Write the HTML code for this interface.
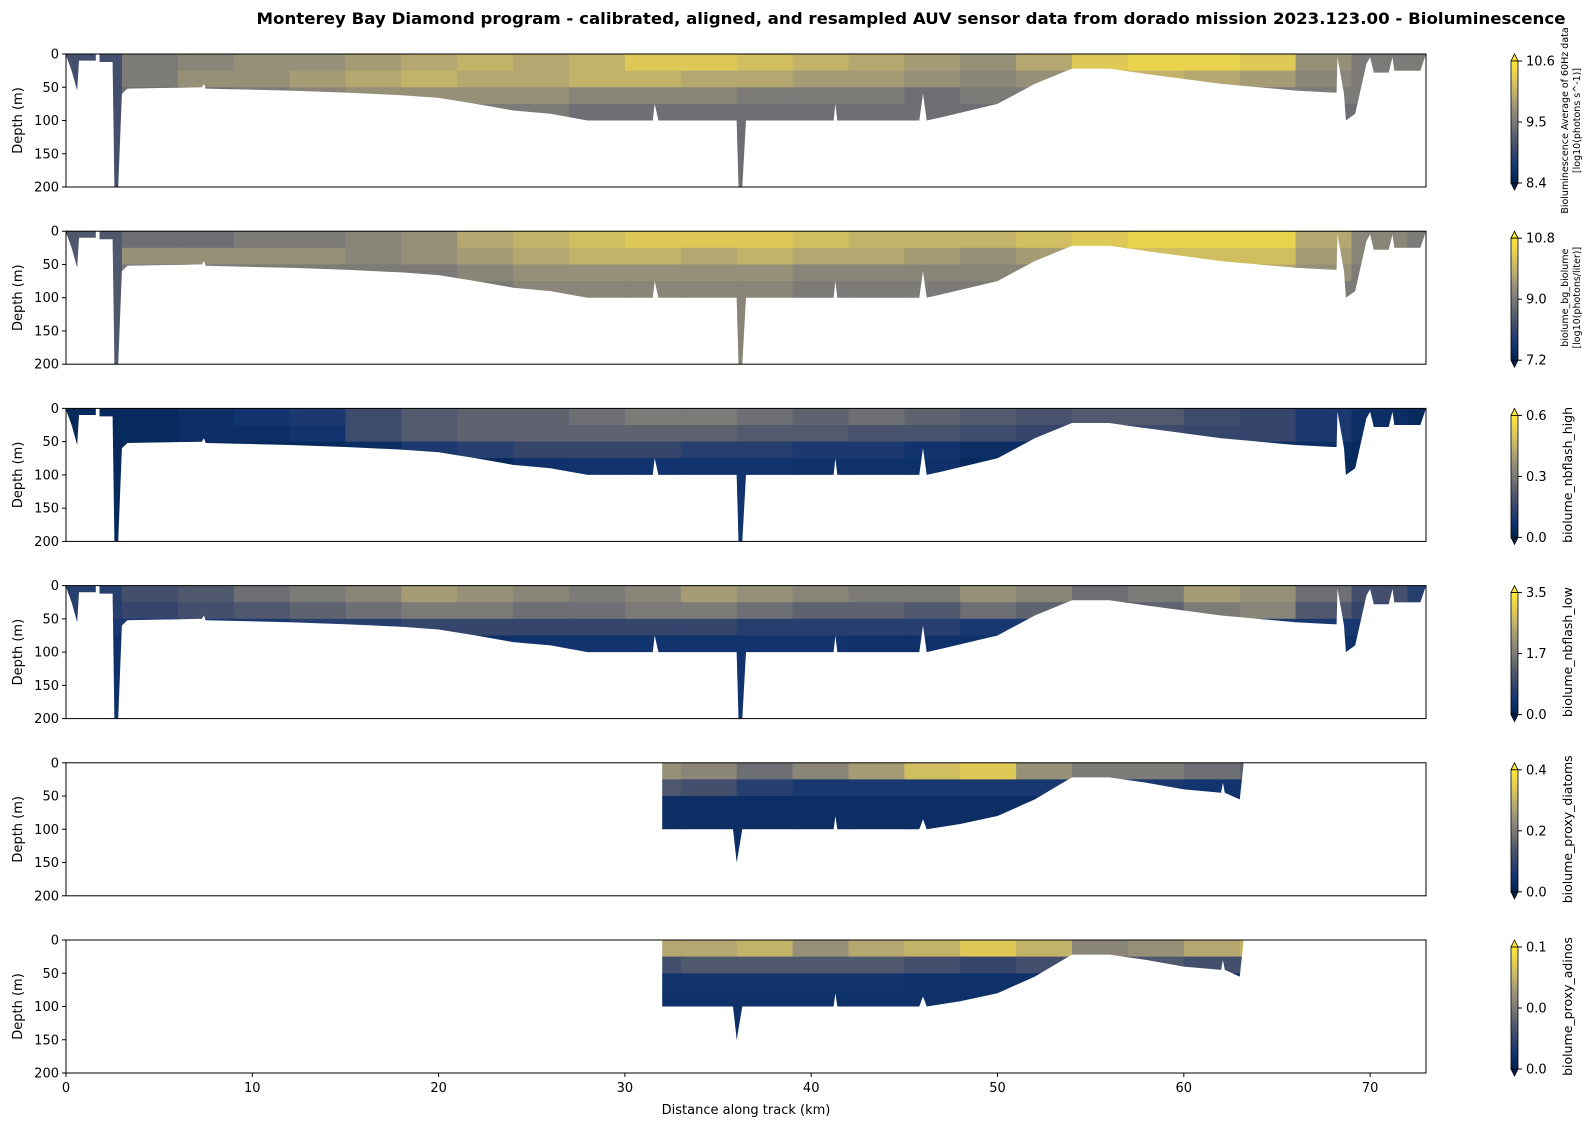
<!DOCTYPE html>
<html><head><meta charset="utf-8"><style>
body{margin:0;background:#fff;}
svg{display:block;font-family:"DejaVu Sans","Liberation Sans",sans-serif;}
</style></head><body>
<svg id="fig" width="1596" height="1128" viewBox="0 0 1596 1128" xmlns="http://www.w3.org/2000/svg">
<rect width="1596" height="1128" fill="#fff"/>
<text x="911" y="24" text-anchor="middle" font-size="16" font-weight="bold" textLength="1309" lengthAdjust="spacingAndGlyphs">Monterey Bay Diamond program - calibrated, aligned, and resampled AUV sensor data from dorado mission 2023.123.00 - Bioluminescence</text>
<text x="746" y="1114" text-anchor="middle" font-size="13">Distance along track (km)</text>
</svg>
<script>
// ---- data ----
const xTicks = [0,10,20,30,40,50,60,70];
const yTicks = [0,50,100,150,200];
const colKm = [0,3,6,9,12,15,18,21,24,27,30,33,36,39,42,45,48,51,54,57,60,63,66,69,72,75];
const rowDepth = [0,25,50,75,200];
const panelNames = ["bioluminescence","biolume-bg","nbflash-high","nbflash-low","proxy-diatoms","proxy-adinos"];
const cbLabels = [["Bioluminescence Average of 60Hz data","[log10(photons s^-1)]"],["biolume_bg_biolume","[log10(photons/liter)]"],["biolume_nbflash_high"],["biolume_nbflash_low"],["biolume_proxy_diatoms"],["biolume_proxy_adinos"]];
const cbTicks = [["10.6","9.5","8.4"],["10.8","9.0","7.2"],["0.6","0.3","0.0"],["3.5","1.7","0.0"],["0.4","0.2","0.0"],["0.1","0.0","0.0"]];
// normalized values (0..1) per panel: rows = depth bins, cols = 3 km bins
const grid1 = [
 [0.3,0.5,0.55,0.6,0.6,0.65,0.7,0.75,0.7,0.75,0.85,0.85,0.8,0.75,0.7,0.65,0.6,0.7,0.85,0.9,0.9,0.85,0.6,0.5,0.5],
 [0.3,0.5,0.6,0.6,0.65,0.7,0.75,0.7,0.7,0.75,0.75,0.7,0.7,0.65,0.65,0.6,0.55,0.6,0.7,0.75,0.7,0.65,0.55,0.5,0.5],
 [0.3,0.45,0.45,0.5,0.55,0.6,0.6,0.6,0.6,0.55,0.55,0.55,0.5,0.5,0.5,0.45,0.5,0.5,0.5,0.55,0.55,0.5,0.5,0.5,0.5],
 [0.3,0.6,0.45,0.45,0.45,0.45,0.5,0.5,0.5,0.45,0.45,0.45,0.45,0.45,0.45,0.45,0.45,0.45,0.45,0.45,0.45,0.45,0.45,0.45,0.45]];
const grid2 = [
 [0.35,0.45,0.45,0.5,0.5,0.55,0.6,0.7,0.75,0.8,0.85,0.85,0.85,0.8,0.75,0.75,0.75,0.8,0.85,0.9,0.9,0.9,0.7,0.55,0.5],
 [0.35,0.6,0.6,0.6,0.6,0.55,0.6,0.65,0.7,0.75,0.75,0.7,0.75,0.7,0.7,0.65,0.6,0.65,0.75,0.8,0.8,0.8,0.65,0.55,0.5],
 [0.35,0.5,0.5,0.5,0.5,0.5,0.5,0.55,0.6,0.6,0.6,0.6,0.6,0.55,0.55,0.55,0.55,0.55,0.6,0.7,0.75,0.7,0.6,0.5,0.5],
 [0.35,0.5,0.5,0.5,0.5,0.5,0.5,0.5,0.55,0.55,0.55,0.55,0.55,0.5,0.5,0.5,0.5,0.5,0.5,0.5,0.5,0.5,0.5,0.5,0.5]];
const grid3 = [
 [0.05,0.05,0.08,0.12,0.16,0.28,0.36,0.4,0.4,0.45,0.5,0.5,0.45,0.4,0.45,0.4,0.36,0.32,0.36,0.36,0.28,0.25,0.16,0.08,0.05],
 [0.05,0.05,0.08,0.08,0.12,0.28,0.36,0.4,0.4,0.4,0.4,0.4,0.36,0.36,0.32,0.32,0.28,0.25,0.25,0.28,0.25,0.25,0.16,0.08,0.05],
 [0.05,0.05,0.05,0.05,0.05,0.08,0.16,0.2,0.25,0.25,0.25,0.2,0.2,0.16,0.16,0.12,0.08,0.08,0.08,0.08,0.08,0.08,0.08,0.05,0.05],
 [0.05,0.6,0.05,0.05,0.05,0.05,0.05,0.05,0.1,0.12,0.12,0.12,0.12,0.1,0.1,0.1,0.05,0.05,0.05,0.05,0.05,0.05,0.05,0.05,0.05]];
const grid4 = [
 [0.2,0.3,0.35,0.45,0.5,0.55,0.65,0.6,0.55,0.5,0.55,0.65,0.6,0.55,0.5,0.5,0.6,0.55,0.45,0.5,0.65,0.6,0.45,0.3,0.2],
 [0.2,0.25,0.3,0.35,0.4,0.45,0.5,0.5,0.45,0.45,0.5,0.5,0.45,0.4,0.4,0.35,0.45,0.4,0.35,0.4,0.5,0.55,0.35,0.25,0.2],
 [0.15,0.15,0.15,0.15,0.2,0.2,0.25,0.25,0.25,0.25,0.25,0.25,0.2,0.2,0.2,0.2,0.15,0.15,0.15,0.15,0.15,0.15,0.15,0.15,0.15],
 [0.1,0.2,0.1,0.1,0.1,0.1,0.1,0.1,0.12,0.12,0.12,0.12,0.12,0.12,0.1,0.1,0.1,0.1,0.1,0.1,0.1,0.1,0.1,0.1,0.1]];
const grid5 = [
 [0,0,0,0,0,0,0,0,0,0,0.6,0.55,0.45,0.55,0.65,0.8,0.85,0.6,0.5,0.5,0.45,0.4,0,0,0],
 [0,0,0,0,0,0,0,0,0,0,0.35,0.3,0.2,0.15,0.15,0.15,0.15,0.15,0.2,0.15,0.12,0.1,0,0,0],
 [0,0,0,0,0,0,0,0,0,0,0.08,0.08,0.08,0.08,0.08,0.08,0.08,0.08,0.08,0.08,0.08,0.08,0,0,0],
 [0,0,0,0,0,0,0,0,0,0,0.08,0.08,0.08,0.08,0.08,0.08,0.08,0.08,0.08,0.08,0.08,0.08,0,0,0]];
const grid6 = [
 [0,0,0,0,0,0,0,0,0,0,0.7,0.7,0.75,0.6,0.7,0.75,0.85,0.75,0.55,0.6,0.7,0.75,0,0,0],
 [0,0,0,0,0,0,0,0,0,0,0.3,0.35,0.35,0.35,0.35,0.3,0.25,0.3,0.35,0.35,0.3,0.3,0,0,0],
 [0,0,0,0,0,0,0,0,0,0,0.12,0.12,0.12,0.12,0.12,0.1,0.1,0.1,0.12,0.12,0.12,0.12,0,0,0],
 [0,0,0,0,0,0,0,0,0,0,0.1,0.1,0.1,0.1,0.1,0.1,0.1,0.1,0.1,0.1,0.1,0.1,0,0,0]];
const grids = [grid1,grid2,grid3,grid4,grid5,grid6];
// data-region outline (km, depth)
const fullKm =    [0,0.3,0.6,0.7,1.6,1.6,1.8,1.8,2.5,2.6,2.8,3.0,3.3,7.3,7.4,7.5,12,15,18,20,22,24,26,28,31.5,31.6,31.8,36,36.1,36.3,36.5,41.2,41.3,41.4,45.8,46,46.2,47,50,52,54,56,58,62,66,68,68.2,68.25,68.6,68.7,69.2,69.8,70,70.2,71,71.2,71.3,72.7,73];
const fullDepth = [2,25,55,10,10,0,0,12,12,200,200,60,52,50,45,52,55,58,62,66,75,85,90,100,100,75,100,100,200,200,100,100,75,100,100,60,100,95,75,45,22,22,30,45,55,58,58,5,60,100,90,15,5,28,28,5,25,25,0];
const partKm =    [32,32,35.8,36,36.3,41.2,41.3,41.4,45.8,46,46.2,48,50,52,54,56,58,60,62,62.1,62.2,63,63.2];
const partDepth = [0,100,100,150,100,100,80,100,100,85,100,92,80,55,22,22,30,40,45,30,45,55,5];
const profKm = [fullKm,fullKm,fullKm,fullKm,partKm,partKm];
const profDepth = [fullDepth,fullDepth,fullDepth,fullDepth,partDepth,partDepth];

// ---- layout ----
const svg = document.getElementById('fig');
const NS = 'http://www.w3.org/2000/svg';
const X0 = 66, X1 = 1426, KM_MAX = 73;
const PH = 133;
function xs(km){ return X0 + (km/KM_MAX)*(X1-X0); }
function ys(d, top){ return top + (d/200)*PH; }
const stops = [[0,[0,34,78]],[0.125,[18,53,112]],[0.25,[53,69,108]],[0.375,[87,93,109]],[0.5,[124,123,120]],[0.625,[157,149,120]],[0.75,[195,179,105]],[0.875,[229,207,82]],[1,[254,232,56]]];
function cmap(v){
  v=Math.max(0,Math.min(1,v));
  for(let i=1;i<stops.length;i++){ if(v<=stops[i][0]){ const a=stops[i-1],b=stops[i]; const t=(v-a[0])/(b[0]-a[0]);
    const c=a[1].map((q,k)=>Math.round(q+(b[1][k]-q)*t)); return `rgb(${c[0]},${c[1]},${c[2]})`; } }
  return 'rgb(254,232,56)';
}
function mk(tag, attrs, parent){ const e=document.createElementNS(NS,tag); for(const k in attrs) e.setAttribute(k,attrs[k]); (parent||svg).appendChild(e); return e; }

const defs = mk('defs',{});
const lg = mk('linearGradient',{id:'cbgrad',x1:'0',y1:'1',x2:'0',y2:'0'},defs);
stops.forEach(s=>{ mk('stop',{offset:s[0], 'stop-color':cmap(s[0])},lg); });

for(let p=0;p<6;p++){
  const top = 54 + p*177.2;
  const g = mk('g',{});
  
  
  const cp = mk('clipPath',{id:'clip'+p},defs);
  const kmArr = profKm[p], dArr = profDepth[p];
  let pts = `${xs(kmArr[0])},${top} `;
  for(let i=0;i<kmArr.length;i++) pts += `${xs(kmArr[i]).toFixed(1)},${ys(dArr[i],top).toFixed(1)} `;
  pts += `${xs(kmArr[kmArr.length-1])},${top}`;
  mk('polygon',{points:pts},cp);
  const cells = mk('g',{'clip-path':`url(#clip${p})`},g);
  const grid = grids[p];
  for(let r=0;r<grid.length;r++){
    for(let c=0;c<grid[r].length;c++){
      const x=xs(colKm[c]), w=xs(Math.min(colKm[c+1],KM_MAX))-x;
      const y=ys(rowDepth[r],top), h=ys(rowDepth[r+1],top)-y;
      const cell = mk('rect',{x:x.toFixed(1),y:y.toFixed(1),width:(w+0.6).toFixed(1),height:(h+0.6).toFixed(1),fill:cmap(grid[r][c])},cells);
      
      
    }
  }
  const fr = mk('rect',{x:X0,y:top,width:X1-X0,height:PH,fill:'none',stroke:'#000','stroke-width':1},g);
  
  
  yTicks.forEach(t=>{
    const y=ys(t,top);
    mk('line',{x1:X0-4,x2:X0,y1:y,y2:y,stroke:'#000'},g);
    const tl = mk('text',{x:X0-7,y:y+4.5,'text-anchor':'end','font-size':13},g);
    tl.textContent = t;
    
    
  });
  const yl = mk('text',{x:0,y:0,transform:`translate(22,${top+PH/2}) rotate(-90)`,'text-anchor':'middle','font-size':13},g);
  yl.textContent = 'Depth (m)';
  
  
  if(p===5){
    xTicks.forEach(t=>{
      const x=xs(t);
      mk('line',{x1:x,x2:x,y1:top+PH,y2:top+PH+4,stroke:'#000'},g);
      const tl = mk('text',{x:x,y:top+PH+19,'text-anchor':'middle','font-size':13},g);
      tl.textContent = t;
      
      
    });
  }
  const cbT = top+7, cbB = top+129, cx0 = 1511, cx1 = 1518;
  const cb = mk('g',{},g);
  
  
  mk('polygon',{points:`${cx0},${cbT} ${(cx0+cx1)/2},${cbT-7} ${cx1},${cbT}`,fill:cmap(1),stroke:'#000','stroke-width':0.8},cb);
  mk('polygon',{points:`${cx0},${cbB} ${(cx0+cx1)/2},${cbB+7} ${cx1},${cbB}`,fill:cmap(0),stroke:'#000','stroke-width':0.8},cb);
  mk('rect',{x:cx0,y:cbT,width:cx1-cx0,height:cbB-cbT,fill:'url(#cbgrad)',stroke:'#000','stroke-width':0.8},cb);
  [cbT,(cbT+cbB)/2,cbB].forEach((y,i)=>{
    mk('line',{x1:cx1,x2:cx1+4,y1:y,y2:y,stroke:'#000'},cb);
    const tl = mk('text',{x:cx1+8,y:y+4.5,'font-size':13},cb);
    tl.textContent = cbTicks[p][i];
    
    
  });
  const lab = cbLabels[p];
  const cyc = top+PH/2;
  if(lab.length===2){
    lab.forEach((s,i)=>{
      const t = mk('text',{transform:`translate(${1568+i*12},${cyc}) rotate(-90)`,'text-anchor':'middle','font-size':9.5},cb);
      t.textContent = s;
      
      
    });
  } else {
    const t = mk('text',{transform:`translate(1572,${cyc}) rotate(-90)`,'text-anchor':'middle','font-size':12.5},cb);
    t.textContent = lab[0];
    
    
  }
}
</script>
</body></html>
